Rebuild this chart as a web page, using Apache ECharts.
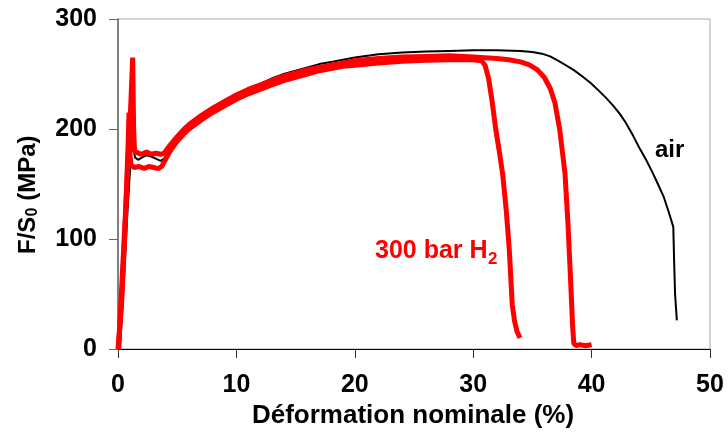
<!DOCTYPE html>
<html>
<head>
<meta charset="utf-8">
<script src="https://cdn.jsdelivr.net/npm/echarts@6/dist/echarts.min.js"></script>
<style>
html,body{margin:0;padding:0;background:#fff;}
#chart{width:728px;height:437px;}
</style>
</head>
<body>
<div id="chart"></div>
<script>
// Strain (%) vs engineering stress F/S0 (MPa)
const xTicks = [0, 10, 20, 30, 40, 50];
const yTicks = [0, 100, 200, 300];

const airCurve = [[0.17,0],[0.5,62],[0.8,125],[1.0,160],[1.15,185],[1.27,211],[1.33,180],[1.45,174],[1.7,172],[2.0,174],[2.4,176],[2.8,175],[3.2,173],[3.6,171],[3.9,173],[4.2,180],[4.6,188],[5,194],[5.5,200],[6,205],[7,213],[8,220],[9,226],[10,232],[11,237],[12,241],[13,246],[14,250],[15,253],[16,256],[17,259],[18,261],[19,263],[20,265],[22,268],[24,269.5],[26,270.5],[28,271],[30,271.5],[32,271.5],[34,271],[35,270],[35.8,268.5],[36.5,266],[37.2,262],[37.9,257.5],[38.5,253.5],[39.2,248],[39.9,242],[40.5,236],[41.2,228.5],[41.8,221.5],[42.4,213.5],[42.9,205.5],[43.5,194],[44.1,181.5],[44.6,172],[45.1,161.5],[45.6,150],[46.1,138],[46.5,125],[46.9,111],[46.97,80],[47.05,50],[47.2,26]];

const h2CurveA = [[0,0],[0.3,40],[0.6,110],[0.85,185],[0.93,215],[1.0,178],[1.1,167],[1.4,165],[1.8,166],[2.2,164],[2.6,166],[3.0,165],[3.4,164],[3.7,166],[4.0,172],[4.4,180],[5,189],[5.5,195],[6,200],[7,208],[8,215],[9,221],[10,227],[11,232],[12,236],[13,240],[14,244],[15,247],[16,250],[17,253],[18,255],[19,257],[20,258],[22,260],[24,261.5],[26,262.5],[28,263],[30,263],[30.7,262],[31.0,258],[31.3,246],[31.6,225],[31.9,200],[32.2,180],[32.5,158],[32.8,125],[33.05,90],[33.2,60],[33.3,40],[33.5,25],[33.7,16],[33.95,10]];

const h2CurveB = [[0.05,0],[0.4,75],[0.8,160],[1.05,215],[1.24,265],[1.32,200],[1.4,180],[1.7,178],[2.0,177],[2.4,179],[2.8,177],[3.2,178],[3.6,177],[3.9,178],[4.3,184],[5,193],[5.5,199],[6,204],[7,212],[8,219],[9,225],[10,231],[11,236],[12,240],[13,244],[14,248],[15,251],[16,254],[17,256],[18,258],[19,260],[20,262],[22,264],[24,265.5],[26,266],[28,266.5],[30,265.5],[32,264],[33,263],[34,261],[34.7,258.5],[35.4,254],[36.0,247],[36.5,237],[36.9,224],[37.3,200],[37.75,160],[38.0,115],[38.2,69],[38.4,20],[38.5,5],[38.7,3],[39,4],[39.5,3],[40,4]];

const FONT = "'Liberation Sans', Arial, sans-serif";
const chart = echarts.init(document.getElementById('chart'), null, {renderer: 'canvas'});

function txt(x, y, text, size, color, align) {
  return {type: 'text', x: x, y: y, style: {text: text, font: 'bold ' + size + 'px ' + FONT, fill: color, textAlign: align || 'left', textVerticalAlign: 'middle'}};
}

const option = {
  animation: false,
  backgroundColor: '#fff',
  grid: {left: 118, right: 18, top: 19, bottom: 88, show: true, borderColor: '#a6a6a6', borderWidth: 1, backgroundColor: 'transparent'},
  xAxis: {
    type: 'value', min: xTicks[0], max: xTicks[xTicks.length-1], interval: 10,
    axisLine: {show: true, onZero: false, lineStyle: {color: '#000', width: 1}},
    axisTick: {show: true, inside: false, length: 9, lineStyle: {color: '#333'}},
    splitLine: {show: false},
    axisLabel: {fontFamily: FONT, fontSize: 25, fontWeight: 'bold', color: '#000', margin: 24}
  },
  yAxis: {
    type: 'value', min: yTicks[0], max: yTicks[yTicks.length-1], interval: 100,
    axisLine: {show: true, onZero: false, lineStyle: {color: '#666', width: 1.5}},
    axisTick: {show: true, inside: false, length: 9, lineStyle: {color: '#666'}},
    splitLine: {show: false},
    axisLabel: {fontFamily: FONT, fontSize: 25, fontWeight: 'bold', color: '#000', margin: 21}
  },
  series: [
    {type: 'line', name: 'H2 A', data: h2CurveA, showSymbol: false, smooth: false, lineStyle: {color: '#ff0000', width: 5}, z: 3},
    {type: 'line', name: 'H2 B', data: h2CurveB, showSymbol: false, smooth: false, lineStyle: {color: '#ff0000', width: 5}, z: 3},
    {type: 'line', name: 'air', data: airCurve, showSymbol: false, smooth: false, lineStyle: {color: '#000', width: 2}, z: 2}
  ],
  graphic: [
    txt(413, 416, 'Déformation nominale (%)', 26, '#000', 'center'),
    {type: 'group', x: 28, y: 195, rotation: Math.PI / 2, children: [
      txt(-59, 0, 'F/S', 24, '#000'),
      txt(-21.5, 5, '0', 16, '#000'),
      txt(-12.5, 0, ' (MPa)', 24, '#000')
    ]},
    txt(655, 150, 'air', 24, '#000'),
    txt(375, 251, '300 bar H', 25, '#ff0000'),
    txt(488, 259, '2', 17, '#ff0000')
  ]
};
chart.setOption(option);
</script>
</body>
</html>
